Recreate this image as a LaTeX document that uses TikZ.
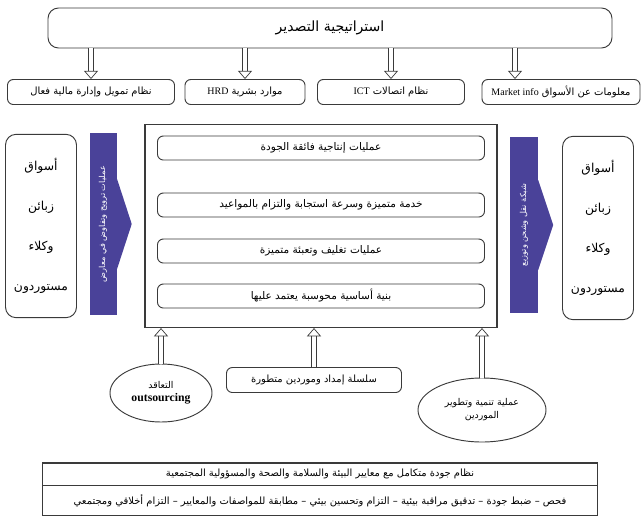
\documentclass[tikz,border=0pt]{standalone}
\usepackage{fontspec}
\setmainfont{Liberation Serif}
\newfontfamily\arabicfont[Script=Arabic]{DejaVu Sans}
\TeXXeTstate=1
\usetikzlibrary{arrows.meta, positioning, shapes.geometric, calc}
\definecolor{pushviolet}{HTML}{4A4299}
\definecolor{ink}{HTML}{3A3A3A}
\newcommand{\artxt}[1]{{\arabicfont\beginR #1\endR}}
\newcommand{\lat}[1]{\beginL{\rmfamily #1}\endL{}}

\begin{document}
\begin{tikzpicture}[x=0.03cm, y=-0.03cm,
  box/.style={draw=ink, line width=0.8pt, rounded corners=5pt, align=center,
              inner sep=2pt, font=\fontsize{8.5}{10}\selectfont},
  opbox/.style={box, minimum width=9.81cm, minimum height=0.72cm, font=\fontsize{9}{11}\selectfont},
  sidebox/.style={draw=ink, line width=0.8pt, rounded corners=9pt, align=center,
              minimum width=2.13cm, minimum height=5.5cm, font=\fontsize{10.5}{34}\selectfont},
  push/.style={fill=pushviolet, text=white, rotate=90, inner sep=1pt,
              font=\fontsize{7}{8}\selectfont},
  oval/.style={draw=ink, line width=0.8pt, ellipse, align=center, inner sep=0pt,
              font=\fontsize{8}{11}\selectfont},
  qrow/.style={draw=ink, line width=0.8pt, minimum width=16.65cm, inner sep=0pt,
              font=\fontsize{8.5}{10}\selectfont},
  hollow/.style={draw=ink, double=white, double distance=3.5pt, line width=0.6pt,
              -{Triangle[open, length=7pt, width=12pt]}},
]
\useasboundingbox (0,0) rectangle (643,529);

% strategy and support functions
\node[box, rounded corners=9pt, minimum width=16.92cm, minimum height=1.2cm,
      font=\fontsize{12}{14}\selectfont] (strat) at (330,28) {\artxt{استراتيجية التصدير}};
\node[box, minimum width=5.01cm, minimum height=0.75cm] (fin) at (91,92) {\artxt{نظام تمويل وإدارة مالية فعال}};
\node[box, minimum width=3.6cm, minimum height=0.75cm] (hrd) at (245,92) {\artxt{موارد بشرية \lat{HRD}}};
\node[box, minimum width=4.41cm, minimum height=0.75cm] (ict) at (391,92) {\artxt{نظام اتصالات \lat{ICT}}};
\node[box, minimum width=4.74cm, minimum height=0.75cm] (mkt) at (561,92) {\artxt{معلومات عن الأسواق \lat{Market info}}};
\coordinate (mktin) at ($(mkt.north)+(-46,0)$);

\draw[hollow] (fin.north |- strat.south) -- (fin.north);
\draw[hollow] (hrd.north |- strat.south) -- (hrd.north);
\draw[hollow] (ict.north |- strat.south) -- (ict.north);
\draw[hollow] (mktin |- strat.south) -- (mktin);

% operations
\node[draw=ink, line width=1pt, minimum width=10.56cm, minimum height=6.09cm] (ops) at (321,226) {};
\node[opbox] (op1) at (321,148) {\artxt{عمليات إنتاجية فائقة الجودة}};
\node[opbox] (op2) at (321,205) {\artxt{خدمة متميزة وسرعة استجابة والتزام بالمواعيد}};
\node[opbox] (op3) at (321,251) {\artxt{عمليات تغليف وتعبئة متميزة}};
\node[opbox] (op4) at (321,296) {\artxt{بنية أساسية محوسبة يعتمد عليها}};

% markets on both sides
\node[sidebox] (lmk) at (41,226) {\artxt{أسواق}\\\artxt{زبائن}\\\artxt{وكلاء}\\\artxt{مستوردون}};
\node[sidebox] (rmk) at (598,228) {\artxt{أسواق}\\\artxt{زبائن}\\\artxt{وكلاء}\\\artxt{مستوردون}};

\node[push, minimum width=5.46cm, minimum height=0.81cm] (lpush) at (103,224) {\artxt{عمليات ترويج وتفاوض في معارض}};
\fill[pushviolet] (lpush.south) +(0,-46) -- +(15,0) -- +(0,46) -- cycle;
\node[push, minimum width=5.28cm, minimum height=0.84cm] (rpush) at (524,225) {\artxt{شبكة نقل وشحن وتوزيع}};
\fill[pushviolet] (rpush.south) +(0,-45) -- +(15,0) -- +(0,45) -- cycle;

% suppliers
\node[oval, minimum width=3.06cm, minimum height=1.74cm] (outs) at (161,393)
  {\artxt{التعاقد}\\{\rmfamily\bfseries\fontsize{10}{11}\selectfont outsourcing}};
\node[box, minimum width=5.25cm, minimum height=0.75cm] (supply) at (314,380) {\artxt{سلسلة إمداد وموردين متطورة}};
\node[oval, minimum width=3.84cm, minimum height=1.92cm] (devp) at (482,410)
  {\artxt{عملية تنمية وتطوير}\\\artxt{الموردين}};

\draw[hollow] (outs.north) -- (outs.north |- ops.south);
\draw[hollow] (supply.north) -- (supply.north |- ops.south);
\draw[hollow] (devp.north) -- (devp.north |- ops.south);

% quality system
\node[qrow, minimum height=0.66cm] (qsys) at (320,474) {\artxt{نظام جودة متكامل مع معايير البيئة والسلامة والصحة والمسؤولية المجتمعية}};
\node[qrow, minimum height=0.9cm, below=0pt of qsys] (qitems) {\artxt{فحص – ضبط جودة – تدقيق مراقبة بيئية – التزام وتحسين بيئي – مطابقة للمواصفات والمعايير – التزام أخلاقي ومجتمعي}};
\draw[ink, line width=1.6pt] (qsys.north west) -- (qsys.north east);
\end{tikzpicture}
\end{document}
